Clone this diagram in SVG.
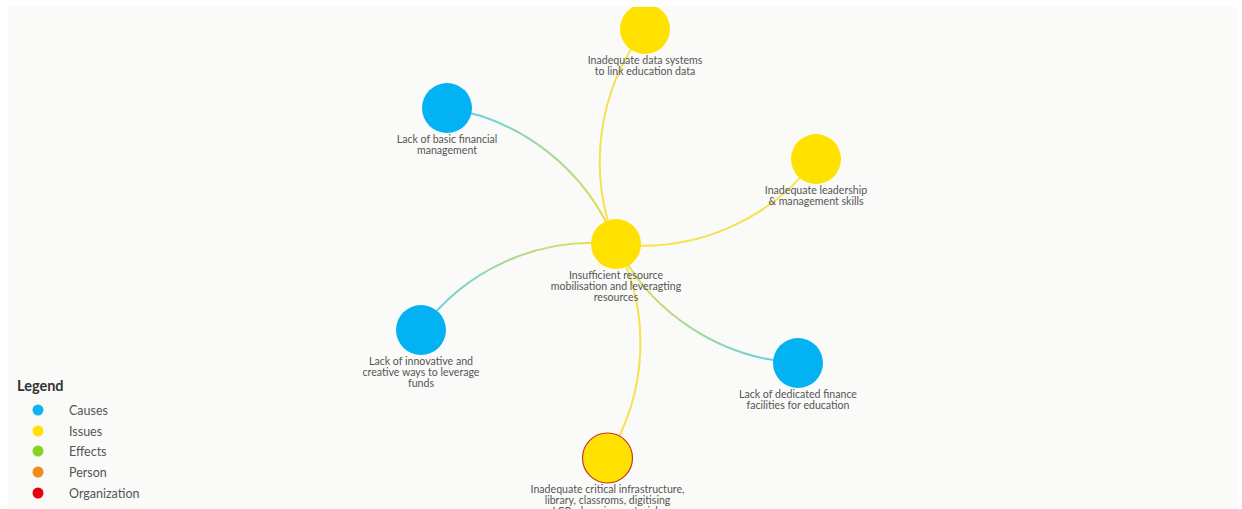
<svg xmlns="http://www.w3.org/2000/svg" width="1242" height="509" viewBox="0 0 1242 509">
  <defs>
    <style>
      .lbl { font-family: Lato, "Open Sans", "Liberation Sans", sans-serif; font-size: 10.6px; fill: #555; text-anchor: middle; }
      .leg { font-family: Lato, "Open Sans", "Liberation Sans", sans-serif; font-size: 12.5px; fill: #555; }
      .legt { font-family: Lato, "Open Sans", "Liberation Sans", sans-serif; font-size: 14.5px; font-weight: bold; fill: #333; }
      .cause { fill: #02b2f2; }
      .issue { fill: #ffe100; }
      .edge { fill: none; stroke-width: 2; }
      .ii { stroke: #f6e14e; }
    </style>
    <clipPath id="panel">
      <rect x="8" y="7" width="1230" height="502"/>
    </clipPath>
    <linearGradient id="gBasic" gradientUnits="userSpaceOnUse" x1="447" y1="108" x2="616" y2="244">
      <stop offset="0" stop-color="#55cff2"/>
      <stop offset="1" stop-color="#f7e040"/>
    </linearGradient>
    <linearGradient id="gInnov" gradientUnits="userSpaceOnUse" x1="421" y1="330" x2="616" y2="244">
      <stop offset="0" stop-color="#55cff2"/>
      <stop offset="1" stop-color="#f7e040"/>
    </linearGradient>
    <linearGradient id="gDedic" gradientUnits="userSpaceOnUse" x1="798" y1="363" x2="616" y2="244">
      <stop offset="0" stop-color="#55cff2"/>
      <stop offset="1" stop-color="#f7e040"/>
    </linearGradient>
  </defs>

  <rect width="1242" height="509" fill="#ffffff"/>
  <rect x="8" y="7" width="1230" height="502" fill="#fafaf8"/>

  <g clip-path="url(#panel)">
    <!-- connectors: arcs whose radius equals the chord length -->
    <g id="connectors">
      <path class="edge ii" d="M616,244 A217,217 0 0,1 645,29"/>
      <path class="edge" stroke="url(#gBasic)" d="M447,108 A217,217 0 0,1 616,244"/>
      <path class="edge ii" d="M816,159 A217,217 0 0,1 616,244"/>
      <path class="edge" stroke="url(#gInnov)" d="M421,330 A213,213 0 0,1 616,244"/>
      <path class="edge" stroke="url(#gDedic)" d="M798,363 A217,217 0 0,1 616,244"/>
      <path class="edge ii" d="M616,244 A214,214 0 0,1 607,458"/>
    </g>

    <!-- nodes -->
    <g id="node-data-systems">
      <circle class="issue" cx="645" cy="29" r="25"/>
      <text class="lbl" x="645" y="64">Inadequate data systems</text>
      <text class="lbl" x="645" y="75">to link education data</text>
    </g>
    <g id="node-basic-financial">
      <circle class="cause" cx="447" cy="108" r="25"/>
      <text class="lbl" x="447" y="143">Lack of basic financial</text>
      <text class="lbl" x="447" y="154">management</text>
    </g>
    <g id="node-leadership">
      <circle class="issue" cx="816" cy="159" r="25"/>
      <text class="lbl" x="816" y="194">Inadequate leadership</text>
      <text class="lbl" x="816" y="205">&amp; management skills</text>
    </g>
    <g id="node-resource-mobilisation">
      <circle class="issue" cx="616" cy="244" r="25"/>
      <text class="lbl" x="616" y="279">Insufficient resource</text>
      <text class="lbl" x="616" y="290">mobilisation and leveragting</text>
      <text class="lbl" x="616" y="301">resources</text>
    </g>
    <g id="node-innovative-ways">
      <circle class="cause" cx="421" cy="330" r="25"/>
      <text class="lbl" x="421" y="365">Lack of innovative and</text>
      <text class="lbl" x="421" y="376">creative ways to leverage</text>
      <text class="lbl" x="421" y="387">funds</text>
    </g>
    <g id="node-finance-facilities">
      <circle class="cause" cx="798" cy="363" r="25"/>
      <text class="lbl" x="798" y="398">Lack of dedicated finance</text>
      <text class="lbl" x="798" y="409">facilities for education</text>
    </g>
    <g id="node-critical-infrastructure">
      <circle class="issue" cx="607.5" cy="458" r="25" stroke="#c0392b" stroke-width="1.2"/>
      <text class="lbl" x="607.5" y="493">Inadequate critical infrastructure,</text>
      <text class="lbl" x="607.5" y="504">library, classroms, digitising</text>
      <text class="lbl" x="607.5" y="515">LCPs, learning materials</text>
    </g>
  </g>

  <!-- legend -->
  <g id="legend">
    <text class="legt" x="17" y="391">Legend</text>
    <circle cx="38" cy="410" r="5.5" fill="#12b4f0"/>
    <text class="leg" x="69" y="414.5">Causes</text>
    <circle cx="38" cy="431" r="5.5" fill="#ffe100"/>
    <text class="leg" x="69" y="435.5">Issues</text>
    <circle cx="38" cy="451" r="5.5" fill="#86d41e"/>
    <text class="leg" x="69" y="455.5">Effects</text>
    <circle cx="38" cy="472" r="5.5" fill="#f28c17"/>
    <text class="leg" x="69" y="476.5">Person</text>
    <circle cx="38" cy="493" r="5.5" fill="#e8000c"/>
    <text class="leg" x="69" y="497.5">Organization</text>
  </g>
</svg>
